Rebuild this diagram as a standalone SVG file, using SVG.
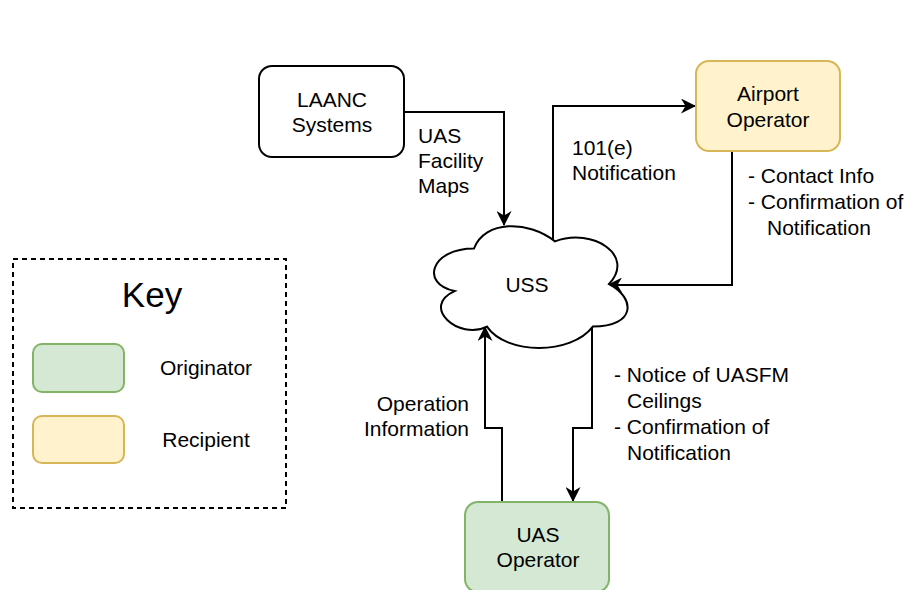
<svg xmlns="http://www.w3.org/2000/svg" width="909" height="590" viewBox="0 0 909 590">
<defs>
<style>
text{font-family:"Liberation Sans",Arial,Helvetica,sans-serif;font-size:21px;fill:#000}
.node{stroke-width:2}
.conn{fill:none;stroke:#000;stroke-width:2}
.mid{text-anchor:middle}
.end{text-anchor:end}
</style>
<marker id="arr" markerUnits="userSpaceOnUse" viewBox="0 0 15 15" markerWidth="15" markerHeight="15" refX="14" refY="7.5" orient="auto">
<path d="M0,0 L15,7.5 L0,15 L4.5,7.5 Z" fill="#000"/>
</marker>
</defs>
<rect width="909" height="590" fill="#fff"/>

<g id="connectors">
<path class="conn" d="M404,112 L504,112 L504,225" marker-end="url(#arr)"/>
<path class="conn" d="M553,241 L553,106 L695,106" marker-end="url(#arr)"/>
<path class="conn" d="M732,151 L732,285 L608,285" marker-end="url(#arr)"/>
<path class="conn" d="M502,502 L502,428 L485,428 L485,327" marker-end="url(#arr)"/>
<path class="conn" d="M592,327 L592,428 L573,428 L573,501" marker-end="url(#arr)"/>
</g>

<g id="label-uasfm">
<text x="418" y="143">UAS</text>
<text x="418" y="168">Facility</text>
<text x="418" y="193">Maps</text>
</g>
<g id="label-101e">
<text x="572" y="155">101(e)</text>
<text x="572" y="180">Notification</text>
</g>
<g id="label-contact">
<text x="748" y="183">- Contact Info</text>
<text x="748" y="209">- Confirmation of</text>
<text x="767" y="235">Notification</text>
</g>
<g id="label-opinfo">
<text class="end" x="469" y="411">Operation</text>
<text class="end" x="469" y="436">Information</text>
</g>
<g id="label-notice">
<text x="614" y="382">- Notice of UASFM</text>
<text x="627" y="408">Ceilings</text>
<text x="614" y="434">- Confirmation of</text>
<text x="627" y="460">Notification</text>
</g>

<g id="laanc">
<rect class="node" x="259" y="66" width="145" height="91" rx="13" fill="#fff" stroke="#000"/>
<text class="mid" x="332" y="107">LAANC</text>
<text class="mid" x="332" y="132">Systems</text>
</g>

<g id="airport">
<rect class="node" x="696" y="61" width="144" height="90" rx="13" fill="#fff2cc" stroke="#d6b656"/>
<text class="mid" x="768" y="101">Airport</text>
<text class="mid" x="768" y="127">Operator</text>
</g>

<g id="uss">
<path class="node" fill="#fff" stroke="#000" d="M474,248.5 C430.8,248.5 420,284 454.6,291.1 C420,306.7 458.9,340.8 486.96,326.6 C506.4,355 571.2,355 592.8,326.6 C636,326.6 636,298.2 609,284 C636,255.6 592.8,227.2 555,241.4 C528,220.1 484.8,220.1 474,248.5 Z"/>
<text class="mid" x="527" y="292">USS</text>
</g>

<g id="uas-operator">
<rect class="node" x="465" y="502" width="144" height="90" rx="13" fill="#d5e8d4" stroke="#82b366"/>
<text class="mid" x="538" y="542">UAS</text>
<text class="mid" x="538" y="567">Operator</text>
</g>

<g id="key">
<rect x="13" y="259" width="273" height="249" fill="none" stroke="#000" stroke-width="2" stroke-dasharray="5 4"/>
<text class="mid" x="152" y="307" style="font-size:35px">Key</text>
<rect class="node" x="33" y="344" width="91" height="48" rx="9" fill="#d5e8d4" stroke="#82b366"/>
<text class="mid" x="206" y="375">Originator</text>
<rect class="node" x="33" y="416" width="91" height="47" rx="9" fill="#fff2cc" stroke="#d6b656"/>
<text class="mid" x="206" y="447">Recipient</text>
</g>
</svg>
